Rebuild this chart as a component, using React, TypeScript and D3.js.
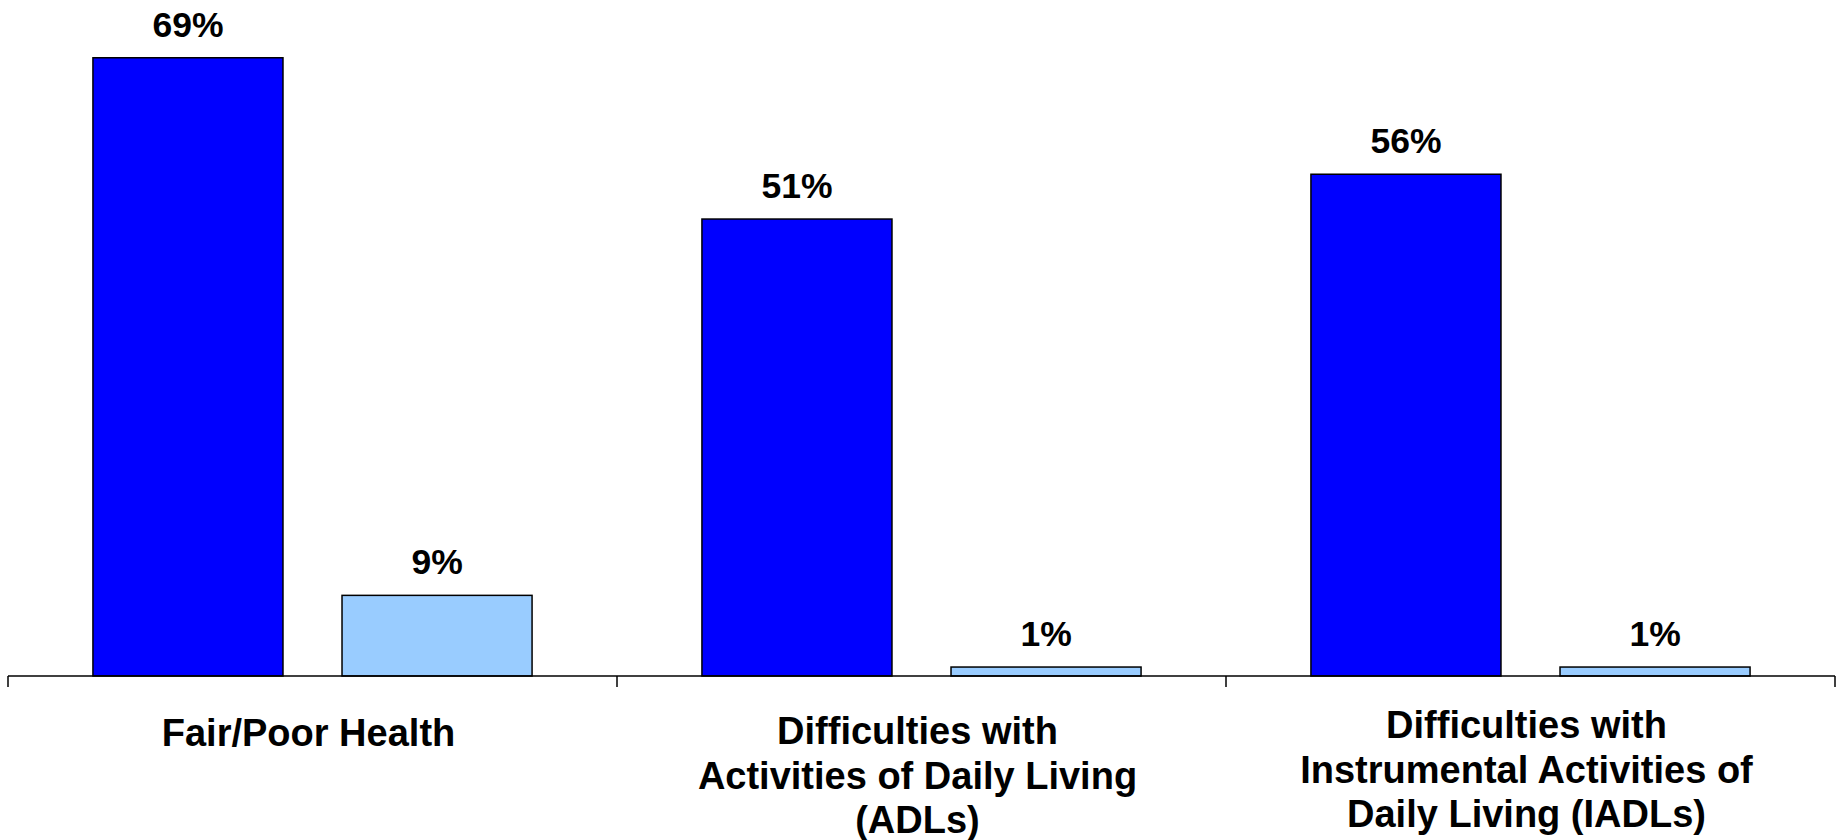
import React from "react";
import * as d3 from "d3";

const categories: string[][] = [
  ["Fair/Poor Health"],
  ["Difficulties with", "Activities of Daily Living", "(ADLs)"],
  ["Difficulties with", "Instrumental Activities of", "Daily Living (IADLs)"],
];
const categoryKeys = ["fair", "adl", "iadl"];
const seriesKeys = ["group1", "group2"];
const seriesA = [69, 51, 56];
const seriesB = [9, 1, 1];
const colors = ["#0000FF", "#99CCFF"];

const W = 1837;
const H = 840;
const axisY = 676;
const labelTopY = [746, 744, 738];

export default function App() {
  const x0 = d3.scaleBand<string>().domain(categoryKeys).range([8, 1835]).padding(0);
  const x1 = d3
    .scaleBand<string>()
    .domain(seriesKeys)
    .range([0, x0.bandwidth()])
    .paddingInner(0.237)
    .paddingOuter(0.341);
  const y = d3.scaleLinear().domain([0, 75]).range([axisY, 4]);
  const ticks = [...categoryKeys.map((k) => x0(k)!), 1835];

  return (
    <svg
      width={W}
      height={H}
      style={{ position: "absolute", left: 0, top: 0, background: "#fff" }}
      fontFamily="'Liberation Sans', Arial, sans-serif"
      fontWeight="bold"
    >
      {categoryKeys.map((k, i) => {
        const vals = [seriesA[i], seriesB[i]];
        return (
          <g key={k} transform={`translate(${x0(k)},0)`}>
            {seriesKeys.map((s, j) => (
              <g key={s}>
                <rect
                  x={x1(s)}
                  y={y(vals[j])}
                  width={x1.bandwidth()}
                  height={axisY - y(vals[j])}
                  fill={colors[j]}
                  stroke="#000"
                  strokeWidth={1.5}
                />
                <text
                  x={x1(s)! + x1.bandwidth() / 2}
                  y={y(vals[j]) - 21}
                  textAnchor="middle"
                  fontSize={35.5}
                  fill="#000"
                >
                  {vals[j]}%
                </text>
              </g>
            ))}
            {categories[i].map((line, li) => (
              <text
                key={li}
                x={x0.bandwidth() / 2 - 4}
                y={labelTopY[i] + li * 44.5}
                textAnchor="middle"
                fontSize={38}
                fill="#000"
              >
                {line}
              </text>
            ))}
          </g>
        );
      })}
      <line x1={8} x2={1835} y1={axisY} y2={axisY} stroke="#000" strokeWidth={1.5} />
      {ticks.map((t, i) => (
        <line key={i} x1={t} x2={t} y1={axisY} y2={axisY + 11} stroke="#000" strokeWidth={1.5} />
      ))}
    </svg>
  );
}
